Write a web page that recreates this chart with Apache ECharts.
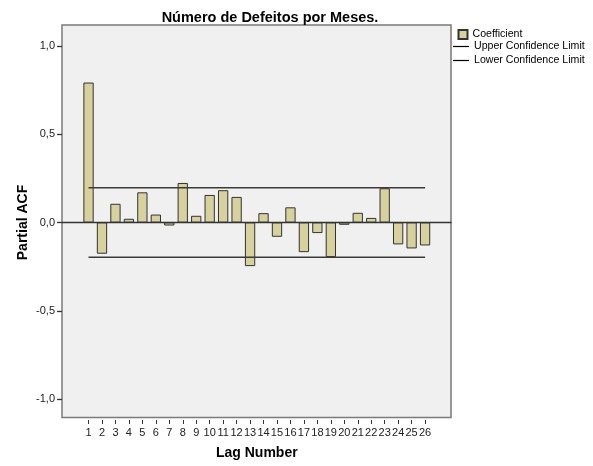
<!DOCTYPE html>
<html>
<head>
<meta charset="utf-8">
<script src="https://cdn.jsdelivr.net/npm/echarts@6/dist/echarts.min.js"></script>
<style>html,body{margin:0;padding:0;background:#fff;}#c{width:593px;height:466px;}</style>
</head>
<body>
<div id="c"></div>
<script>
const lags = ['1','2','3','4','5','6','7','8','9','10','11','12','13','14','15','16','17','18','19','20','21','22','23','24','25','26'];
const coefficient = [0.793,-0.177,0.106,0.021,0.171,0.045,-0.017,0.224,0.038,0.156,0.183,0.145,-0.247,0.053,-0.081,0.086,-0.168,-0.060,-0.196,-0.013,0.055,0.026,0.194,-0.124,-0.147,-0.130];
const upperLimit = [0.197,0.197,0.197,0.197,0.197,0.197,0.197,0.197,0.197,0.197,0.197,0.197,0.197,0.197,0.197,0.197,0.197,0.197,0.197,0.197,0.197,0.197,0.197,0.197,0.197,0.197];
const lowerLimit = [-0.197,-0.197,-0.197,-0.197,-0.197,-0.197,-0.197,-0.197,-0.197,-0.197,-0.197,-0.197,-0.197,-0.197,-0.197,-0.197,-0.197,-0.197,-0.197,-0.197,-0.197,-0.197,-0.197,-0.197,-0.197,-0.197];
const yTicks = [-1, -0.5, 0, 0.5, 1];

const FONT = 'Liberation Sans, Arial, sans-serif';
const chart = echarts.init(document.getElementById('c'), null, {renderer: 'canvas'});
chart.setOption({
  animation: false,
  backgroundColor: '#ffffff',
  title: {
    text: 'Número de Defeitos por Meses.',
    left: 265, textAlign: 'center', top: 5,
    textStyle: {fontFamily: FONT, fontSize: 14.5, fontWeight: 'bold', color: '#000'}
  },
  legend: [
    {
      data: [{name: 'Coefficient', icon: 'rect'}], orient: 'vertical', left: 457.5, top: 29, padding: 0,
      itemWidth: 9, itemHeight: 9, itemGap: 2,
      textStyle: {fontFamily: FONT, fontSize: 10.6, color: '#000'}
    },
    {
      data: ['Upper Confidence Limit', 'Lower Confidence Limit'], orient: 'vertical', left: 453, top: 41, padding: 0,
      itemWidth: 16, itemHeight: 9, itemGap: 3,
      icon: 'path://M0,4 L16,4 L16,5.2 L0,5.2 Z',
      textStyle: {fontFamily: FONT, fontSize: 10.6, color: '#000'}
    }
  ],
  grid: [
    {left: 62, top: 25, width: 389, height: 392.5, show: true, backgroundColor: '#f0f0f0', borderColor: '#7a7a7a', borderWidth: 1.5},
    {left: 81.8, top: 46, width: 350, height: 353}
  ],
  xAxis: [
    {gridIndex: 0, type: 'value', min: 0, max: 1, axisLine: {show: true, onZero: true, lineStyle: {color: '#333', width: 1.3}},
     axisTick: {show: false}, axisLabel: {show: false}, splitLine: {show: false}},
    {gridIndex: 1, type: 'category', data: lags, position: 'bottom', offset: 21,
     axisLine: {show: false, onZero: false}, axisTick: {show: true, alignWithLabel: true, length: 4, lineStyle: {color: '#333', width: 1}},
     axisLabel: {fontFamily: FONT, fontSize: 11, color: '#222', margin: 7, interval: 0},
     splitLine: {show: false},
     name: 'Lag Number', nameLocation: 'middle', nameGap: 26, nameMoveOverlap: false,
     nameTextStyle: {fontFamily: FONT, fontSize: 14, fontWeight: 'bold', color: '#000'}}
  ],
  yAxis: [
    {gridIndex: 0, type: 'value', min: -1.105, max: 1.119, show: false, splitLine: {show: false}},
    {gridIndex: 1, type: 'value', min: yTicks[0], max: yTicks[yTicks.length-1], interval: 0.5, position: 'left', offset: 19.8,
     axisLine: {show: false, onZero: false}, axisTick: {show: true, length: 5, lineStyle: {color: '#333', width: 1.3}},
     axisLabel: {fontFamily: FONT, fontSize: 11, color: '#222', margin: 7, formatter: v => v.toFixed(1).replace('.', ',')},
     splitLine: {show: false},
     name: 'Partial ACF', nameLocation: 'middle', nameGap: 32, nameRotate: 90, nameMoveOverlap: false,
     nameTextStyle: {fontFamily: FONT, fontSize: 14, fontWeight: 'bold', color: '#000'}}
  ],
  series: [
    {
      name: 'Coefficient', type: 'bar', xAxisIndex: 1, yAxisIndex: 1, data: coefficient,
      barWidth: 10.3,
      itemStyle: {color: '#d6d19d', borderColor: '#333', borderWidth: 1}
    },
    {
      name: 'Upper Confidence Limit', type: 'line', xAxisIndex: 1, yAxisIndex: 1, data: upperLimit,
      symbol: 'none', lineStyle: {color: '#3a3a3a', width: 1.6}, itemStyle: {color: '#000'}
    },
    {
      name: 'Lower Confidence Limit', type: 'line', xAxisIndex: 1, yAxisIndex: 1, data: lowerLimit,
      symbol: 'none', lineStyle: {color: '#3a3a3a', width: 1.6}, itemStyle: {color: '#000'}
    }
  ]
});
</script>
</body>
</html>
